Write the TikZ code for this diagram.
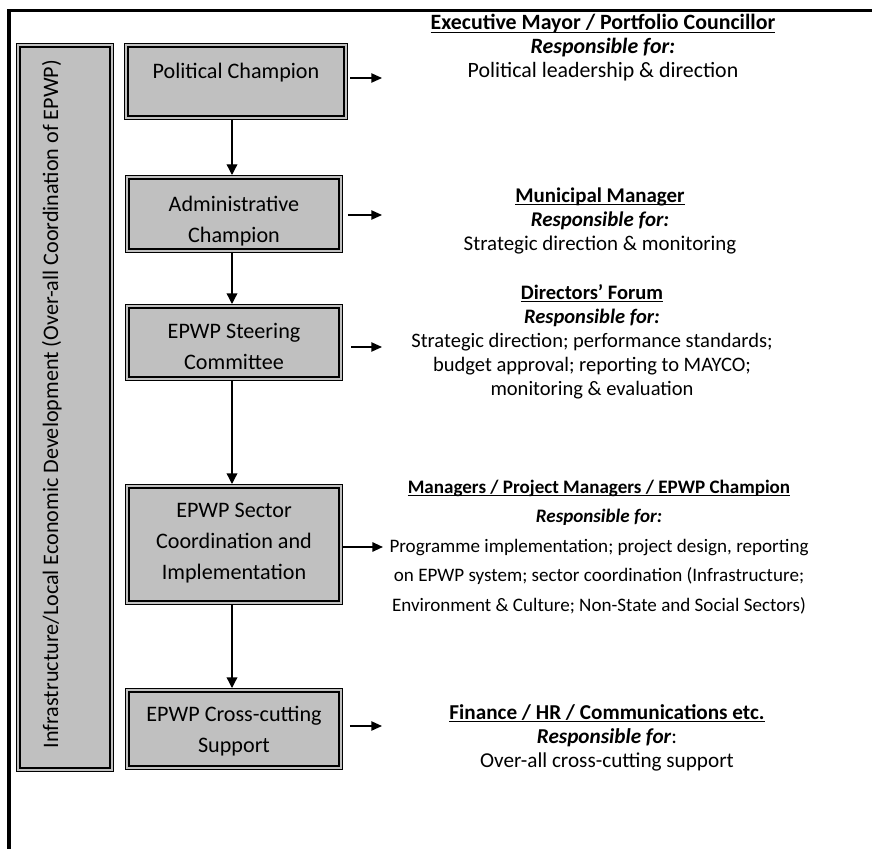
\documentclass[tikz,border=0pt]{standalone}
\usepackage{fontspec}
\setmainfont{Carlito}
\usetikzlibrary{arrows.meta,fit}
\definecolor{boxgray}{RGB}{192,192,192}
\newcommand\ulin[1]{\setbox0=\hbox{#1}\rlap{\rule[-2.4pt]{\wd0}{1pt}}\box0}
\begin{document}
\begin{tikzpicture}[x=0.75pt, y=-0.75pt,
  box/.style={draw=black, line width=0.9pt, double=boxgray, double distance=1.5pt, fill=boxgray, inner sep=0pt, outer sep=0pt},
  btext/.style={font=\fontsize{16.6}{23.25}\selectfont, align=center, anchor=base, inner sep=0pt},
  rtext/.style={align=center, anchor=base, inner sep=0pt},
  varr/.style={-{Triangle[length=8pt,width=8pt]}, line width=1pt, shorten <=1.8pt, shorten >=1.8pt},
  harr/.style={-{Triangle[length=8pt,width=7pt]}, line width=1pt}]
\useasboundingbox (0,0) rectangle (872,849);
% frame
\draw[line width=2.8pt] (9,849) -- (9,10.5) -- (872,10.5);
% boxes
\node[box, fit={(18.4,45.4) (111.6,769.6)}] (lead) {};
\node[box, fit={(126.4,45.4) (345.6,117.6)}] (pc) {};
\node[box, fit={(127.4,177.4) (340.6,250.6)}] (adm) {};
\node[box, fit={(127.4,306.4) (340.6,378.6)}] (steer) {};
\node[box, fit={(127.4,486.4) (340.6,602.6)}] (sec) {};
\node[box, fit={(127.4,690.4) (340.6,767.6)}] (cross) {};
% box texts (anchor=base is the baseline of the last line)
\node[btext, rotate=90] (leadt) at (58,404) {Infrastructure/Local Economic Development (Over-all Coordination of EPWP)};
\node[btext] (pct) at (236,79) {Political Champion};
\node[btext] (admt) at (234,242) {Administrative\\Champion};
\node[btext] (steert) at (234,369) {EPWP Steering\\Committee};
\node[btext] (sect) at (234,579) {EPWP Sector\\Coordination and\\Implementation};
\node[btext] (crosst) at (234,752) {EPWP Cross-cutting\\Support};
% vertical arrows
\draw[varr] ([xshift=-3pt]pc.south) -- ([xshift=-1.5pt]adm.north);
\draw[varr] ([xshift=-1.5pt]adm.south) -- ([xshift=-1.5pt]steer.north);
\draw[varr] ([xshift=-1.5pt]steer.south) -- ([xshift=-1.5pt]sec.north);
\draw[varr] ([xshift=-1.5pt]sec.south) -- ([xshift=-1.5pt]cross.north);
% right arrows
\coordinate (pcR) at (382,78);
\coordinate (admR) at (382,215);
\coordinate (steerR) at (382,347);
\coordinate (secR) at (383,547);
\coordinate (crossR) at (382,726);
\draw[harr, shorten <=3.3pt] (pc.east |- pcR) -- (pcR);
\draw[harr, shorten <=5.5pt] (adm.east |- admR) -- (admR);
\draw[harr, shorten <=7.8pt] (steer.east |- steerR) -- (steerR);
\draw[harr, line width=1.4pt, shorten <=1.8pt] (sec.east |- secR) -- (secR);
\draw[harr, shorten <=7pt] (cross.east |- crossR) -- (crossR);
% right texts (anchor=base is the baseline of the last line)
\node[rtext, font=\fontsize{16.4}{18}\selectfont] (r1) at (603,78) {\ulin{\textbf{Executive Mayor / Portfolio Councillor}}\\ \textbf{\textit{Responsible for:}}\\ Political leadership \& direction};
\node[rtext, font=\fontsize{15.7}{18}\selectfont] (r2) at (600,250) {\ulin{\textbf{Municipal Manager}}\\ \textbf{\textit{Responsible for:}}\\ Strategic direction \& monitoring};
\node[rtext, font=\fontsize{15.4}{18}\selectfont] (r3) at (592,395) {\ulin{\textbf{Directors’ Forum}}\\ \textbf{\textit{Responsible for:}}\\ Strategic direction; performance standards;\\ budget approval; reporting to MAYCO;\\ monitoring \& evaluation};
\node[rtext, font=\fontsize{14.3}{22.1}\selectfont] (r4) at (599,611) {\ulin{\textbf{Managers / Project Managers / EPWP Champion}}\\ \textbf{\textit{Responsible for:}}\\ Programme implementation; project design, reporting\\ on EPWP system; sector coordination (Infrastructure;\\ Environment \& Culture; Non-State and Social Sectors)};
\node[rtext, font=\fontsize{15.9}{18}\selectfont] (r5) at (607,767) {\ulin{\textbf{Finance / HR / Communications etc.}}\\ \textbf{\textit{Responsible for}}:\\ Over-all cross-cutting support};
\end{tikzpicture}
\end{document}
